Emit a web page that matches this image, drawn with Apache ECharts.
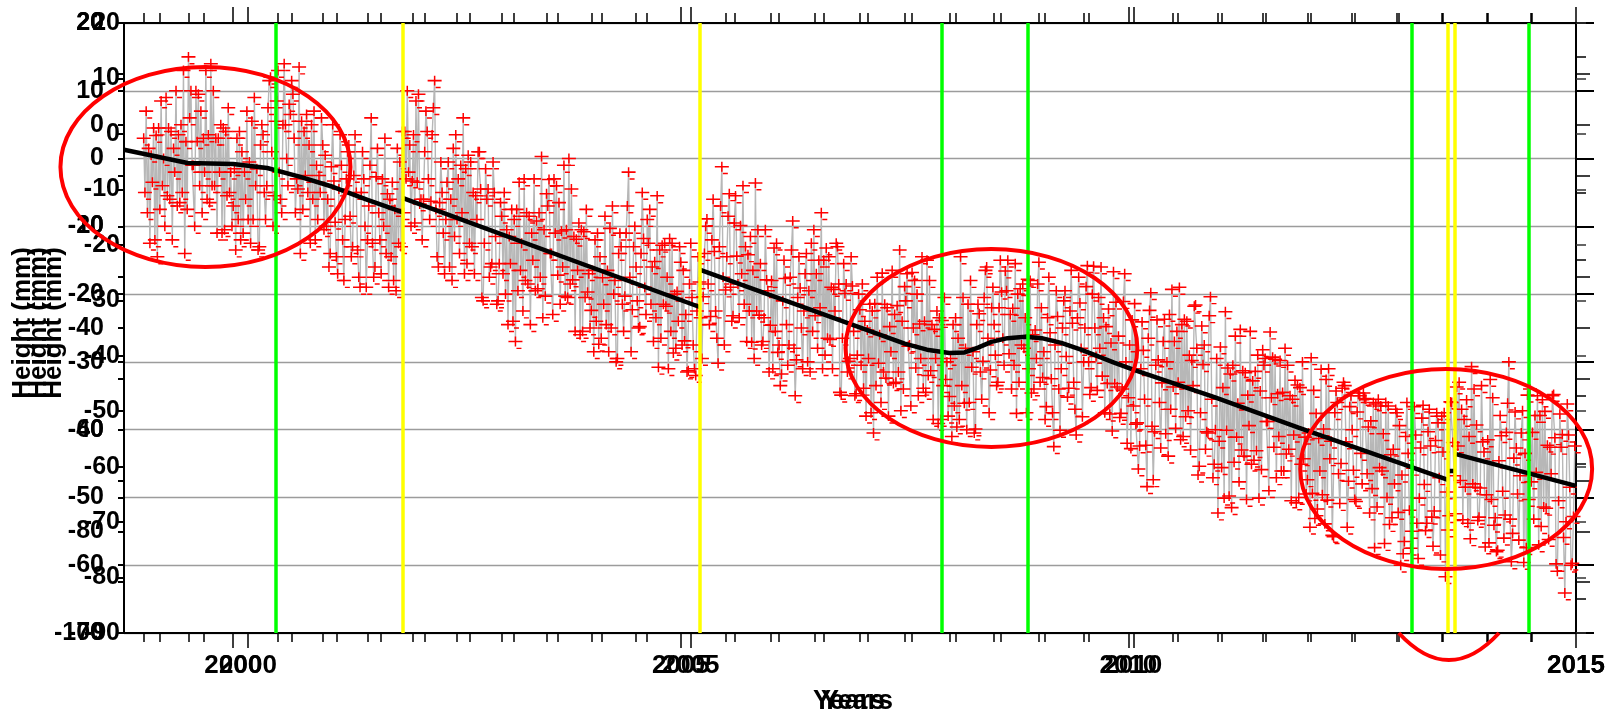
<!DOCTYPE html>
<html>
<head>
<meta charset="utf-8">
<script src="https://cdn.jsdelivr.net/npm/echarts@6/dist/echarts.min.js"></script>
<style>
  html, body { margin: 0; padding: 0; background: #ffffff; }
  #chart { width: 1619px; height: 713px; }
</style>
</head>
<body>
<div id="chart"></div>
<script>
// Station height (mm), three samples per half month.
// hYYYY: 1st / 16th of each month
const h1999 = [3,-8,0.5,-12,4.5,-4,9,-6,1.5,-7,5,-14,15,-1,10,-4,3,-6,14,-4,3,-11,4,-5];
const h2000 = [-7,3,-12,-2,-9,5.5,-4,-13,3.5,-4,12,-5.5,13,-8,5,8,9.5,-3,-14,4,-5,5,-12,-2.5];
const h2001 = [2,-10,-14,-3.3,-17,-1,-9,2,-13,-5,-19,-3,-12,6,-16,-8,-3,-14,-6,-18,1.5,-13,4,-2];
const h2002 = [-3.3,8.5,-6.7,-6,4,-6.3,11.5,-16,-5,-9,-16,1.5,-9,-1,-17,0.5,-13,-5.5,1,-21,-6,-16,-5,-21];
const h2003 = [-8.5,-20,-11.5,-24,-7.5,-16.5,-3,-18.5,-11,-19.5,-8,-23.5,-5.2,-14,-3,-17.2,-10.7,-20.3,0,-17.9,-11.9,-26,-10.8,-19.7];
const h2004 = [-22.4,-12,-27.4,-17.6,-24.5,-10.3,-20,-29.5,-13,-20.3,-2,-22.3,-16,-24.8,-11.8,-9,-21.5,-15.2,-30.8,-12.8,-21.8,-11.8,-28.7,-19.6];
const h2005 = [-15.3,-26.9,-31.3,-20.5,-32,-18.2,-20.4,-8.9,-23.3,-13.7,-30.2,-1.2,-19.4,-5.2,-23.2,-14.4,-9.9,-21.5,-14.2,-27.1,-3.6,-23.1,-27,-17.9];
const h2006 = [-24.6,-13.2,-28.6,-31.8,-17.7,-27.5,-9.2,-29.7,-19.1,-22.5,-30,-12.5,-23.2,-15,-31,-13.2,-26.7,-19.3,-13,-34.9,-19.9,-29.9,-18.8,-34.7];
const h2007 = [-22.3,-33.9,-25.3,-37.5,-21.4,-30.2,-16.9,-32.4,-24.8,-33.2,-21.7,-37.2,-18.9,-27.7,-16.8,-30.9,-24.4,-33.9,-15,-31.3,-25.2,-39.1,-23.9,-32.6];
const h2008 = [-35.1,-24.5,-39.6,-14.5,-36.1,-21.5,-30.8,-39.9,-22.9,-29.9,-16,-31.2,-24.5,-33,-19.7,-16.6,-28.8,-22.1,-37.6,-19.2,-28,-17.8,-34.6,-25.3];
const h2009 = [-15.3,-32.3,-36.6,-25.7,-42.5,-23.3,-31,-19.5,-33.9,-24.3,-40.8,-21.3,-30,-15.8,-33.8,-25,-20.5,-32.1,-24.8,-37.7,-16.7,-33.7,-37.6,-17];
const h2010 = [-35.3,-23.8,-39.2,-42.4,-28.3,-48.4,-19.8,-40.3,-29.7,-33.1,-40.6,-23,-33.7,-25.5,-41.5,-23.7,-37.2,-29.8,-21.6,-45.4,-30.4,-40.3,-20.4,-45.1];
const h2011 = [-52.3,-45.6,-22.6,-49.8,-30.5,-41.1,-25.2,-43.9,-34.9,-45.1,-31.4,-50.1,-28.2,-38.8,-25.6,-42.6,-34.7,-46.1,-28,-42.9,-35.5,-50.8,-33.8,-44.3];
const h2012 = [-47.4,-29.4,-53.1,-41.3,-49.6,-32.6,-44.3,-55.8,-36,-45,-33.5,-47.6,-40,-50.6,-35,-34.6,-46.5,-38.7,-57.4,-35.5,-46.1,-36,-54,-42.9];
const h2013 = [-37.5,-60,-56.5,-43.5,-55,-40.8,-50.1,-36.4,-53.8,-42.4,-52,-39,-38,-61.7,-52.7,-41.9,-33.7,-47.5,-38.5,-53.8,-30.7,-48.5,-52.9,-41.8];
const h2014 = [-49.6,-32.6,-54.1,-57.8,-40.9,-52.6,-30,-55.3,-42.7,-46.8,-59.6,-34.9,-47.7,-37.9,-57,-35.6,-51.6,-42.6,-34.8,-60.9,-42.6,-64.1,-40.8,-59.7];

// mYYYY: 6th / 21st of each month
const m1999 = [-5,1.5,-3.5,3.4,-7.5,0,-5.5,4,-2,3.5,-5,2.5,6,-1,2.5,7,-2,3.5,-4,3,-2,4.5,-5.5,-2];
const m2000 = [-1.5,-9,1,-6,-0.5,-9,-1.5,2,-5,7.5,1,5.5,-2,5,0,6.5,3,-4.5,5.5,-2.5,2,-6,-1,-5];
const m2001 = [-10.5,-6,-1.2,-9.4,-4.5,-12,-3,-8.5,-2.5,-13.5,-5,-10,-7,-12.5,-2.7,-12,-10,-5.2,-14.5,-7.5,-12.5,4,-3,2];
const m2002 = [3.5,-3.5,-6,1,-3,3.5,-7.5,-6.5,-11,-3.5,-6,-11.5,-3,-8,-1.5,-12.5,-5,-9,-4.5,-12.5,-4.5,-15.5,-11.5,-15.5];
const m2003 = [-17,-10.5,-15.5,-9,-19.5,-12.5,-18,-8.5,-15,-9.2,-17.5,-10.5,-7,-14,-11,-6.5,-16,-10.5,-18.5,-11.5,-16.5,-10.5,-20.5,-17];
const m2004 = [-16.5,-24,-14.5,-21.5,-16.5,-25,-18,-14,-21.5,-11,-17.5,-13,-21,-14,-19,-12.5,-16,-23.5,-13.5,-21.5,-17.5,-25.5,-20,-24];
const m2005 = [-27.5,-23,-18.5,-27.5,-22.5,-23.5,-14,-18.5,-12,-22.5,-13,-17.5,-14.5,-19,-9.5,-18.5,-17,-13,-22.5,-16.5,-22.5,-15.5,-23.5,-19.5];
const m2006 = [-18,-25.5,-27.5,-21,-24.5,-17.5,-28,-20.5,-25,-17,-19.5,-25.5,-17,-22,-15,-26.5,-19,-22.5,-18.5,-26.5,-18.5,-29.5,-25.5,-29];
const m2007 = [-30.5,-24,-29.5,-22.5,-33.5,-26,-31.5,-22,-28.5,-23,-31.5,-24,-21,-27.5,-25,-20,-29.5,-24,-32,-24.5,-29.5,-23.5,-33.5,-30];
const m2008 = [-29.5,-36.5,-26.5,-33.5,-28,-36,-28.5,-24.5,-31.5,-20.5,-26.5,-22,-29,-22,-26.5,-19.5,-23,-30.5,-20,-27.5,-23.5,-31,-26,-29.5];
const m2009 = [-33,-28.5,-23.5,-32.5,-27.5,-34,-25,-29.2,-22.5,-33,-23.5,-28,-25,-30,-20,-29.2,-28,-23.5,-33.2,-27.2,-33.2,-26.2,-34,-30];
const m2010 = [-27.5,-36.5,-39,-31,-35.5,-26.5,-39.5,-30.5,-36,-27,-30,-37,-27,-33,-24.5,-38.1,-29,-33.5,-28,-37.5,-27.5,-40.5,-35.5,-40];
const m2011 = [-41.7,-33.8,-40.1,-31.8,-44.8,-36.1,-43,-31.6,-39.4,-32.8,-43.1,-34.3,-30.5,-38.8,-35.3,-29.6,-41,-34.5,-43.6,-35,-40.8,-33.4,-45.1,-41.1];
const m2012 = [-40.5,-49.4,-37.6,-46.1,-39.9,-50.4,-41.7,-37.5,-46.5,-33.9,-41.8,-36.6,-46,-37.4,-43.5,-35.4,-39.6,-48.7,-36.2,-45.6,-40.6,-50,-43.7,-48];
const m2013 = [-52.2,-46.7,-41,-51.9,-45.7,-53.8,-42.7,-48.1,-40.3,-52.9,-41.6,-47.1,-43.3,-49.2,-35.9,-46.8,-42.4,-37,-48.5,-41,-48,-39.3,-48.6,-43.3];
const m2014 = [-41.5,-50.3,-53,-44.6,-49.1,-40.4,-53.2,-44.2,-49.5,-40.5,-43.5,-50.3,-40.4,-46.3,-37.9,-51.4,-42.3,-46.5,-41.2,-50.5,-40.7,-53.6,-48.5,-52.8];

// qYYYY: 11th / 26th of each month
const q1999 = [7,-12.5,4.5,-14.5,8.5,-10,4.5,-12,10,-6.5,13,-7.5,10,-10,9.5,-8,13,-6.5,10,-11,5,-10.5,7.5,-10];
const q2000 = [-13.5,4,-11,7,-12.5,9,-13.5,5,-9,11.5,-10,8.5,-6,14,-4,11.5,-8,13.5,-7.5,6.5,-12.5,7,-9,6];
const q2001 = [0.5,-16,5,-14.5,3.5,-18,1,-14.5,3.5,-17.5,1,-19,-1,-17.5,1.5,-17,3,-19,-3.5,-19.5,-0.5,-8,10,-10];
const q2002 = [-9.5,9.5,-12,7,-9,7.5,-14.5,-0.5,-17,-0.5,-18,3.5,-14,6,-15.5,-0.5,-17,1,-20.5,-1.5,-17.5,-0.5,-21.5,-6.5];
const q2003 = [-5,-24.5,-7.5,-27,-3.5,-22.5,-8,-24.5,-3,-19.2,0.3,-20.3,-3.1,-23,-4,-21.5,-1,-20.5,-4.5,-25.5,-9.5,-25.5,-7.5,-25];
const q2004 = [-28.5,-11,-26.5,-8.5,-28.5,-7,-30,-11,-25.5,-7,-28.5,-10,-25,-5,-23,-7.5,-27,-5.5,-26.5,-12.5,-31,-12.5,-28,-13];
const q2005 = [-16.5,-31.5,-12.5,-31,-14.5,-29.5,-10,-24.5,-6,-26.5,-7,-27.5,-8.5,-24,-5.5,-23.5,-4,-27,-11.5,-29.5,-10.5,-27.5,-10.5,-31.5];
const q2006 = [-31,-12.5,-33.5,-15,-30.5,-13.5,-35,-14.5,-31,-14,-31.5,-10.5,-28,-8,-29,-14.5,-31,-12.5,-34.5,-15.5,-31.5,-14.5,-35,-20];
const q2007 = [-18.5,-38,-21.5,-40.5,-17.5,-36,-21.5,-38,-16.5,-33,-13.5,-34,-17,-36.5,-18,-35,-14.5,-34.5,-18,-38.5,-22.5,-38.5,-20.5,-38];
const q2008 = [-41,-23.5,-38.5,-20.5,-40,-18,-40.5,-21.5,-35.5,-16.5,-37.5,-19,-33.5,-15,-30.5,-15,-34,-15.5,-33,-18.5,-37.5,-18,-34,-18.5];
const q2009 = [-22,-38.5,-17.5,-37.5,-19.5,-40.1,-21,-35.2,-16.5,-37,-17.5,-38.1,-18.9,-34.8,-15.9,-34.2,-16,-37.5,-22.2,-40.2,-21.2,-38.2,-21.1,-42];
const q2010 = [-42.8,-21.4,-45.8,-24.1,-42.3,-22.4,-47.4,-23.8,-42.7,-23.7,-43.9,-19.3,-39.8,-19,-41,-24,-43,-21.8,-46.7,-24.7,-42.9,-23.2,-47.1,-29.5];
const q2011 = [-27.8,-50.1,-30.9,-51.5,-26.2,-47.7,-31.3,-50.3,-25.5,-44.5,-29,-45.9,-29.5,-49,-29.3,-47.1,-29.8,-46.1,-30.5,-50.5,-32.7,-50,-30,-49.5];
const q2012 = [-54.4,-34.2,-51.7,-31.1,-53.9,-31,-55.6,-34.3,-50.9,-33,-54.4,-35,-50.3,-34.6,-48,-35.5,-52.3,-36,-51.4,-36.5,-56.8,-36.5,-53,-37];
const q2013 = [-39.4,-58.3,-36,-57.5,-36.6,-59,-38.3,-54.9,-37,-57.2,-37.5,-58.5,-37.5,-54.8,-36,-52.4,-33,-53.3,-35.6,-56.1,-34,-53.4,-33.5,-57.3];
const q2014 = [-56.7,-35.3,-58,-37.9,-56,-36.1,-59.5,-37.4,-56.3,-37.2,-57.4,-34,-53.2,-35,-54.3,-37.3,-56.2,-35,-59.8,-37.7,-55.9,-36.2,-60,-42.4];

const yearBlocks = [
  [1999, h1999, m1999, q1999], [2000, h2000, m2000, q2000], [2001, h2001, m2001, q2001], [2002, h2002, m2002, q2002],
  [2003, h2003, m2003, q2003], [2004, h2004, m2004, q2004], [2005, h2005, m2005, q2005], [2006, h2006, m2006, q2006],
  [2007, h2007, m2007, q2007], [2008, h2008, m2008, q2008], [2009, h2009, m2009, q2009], [2010, h2010, m2010, q2010],
  [2011, h2011, m2011, q2011], [2012, h2012, m2012, q2012], [2013, h2013, m2013, q2013], [2014, h2014, m2014, q2014]
];
const HALF_MONTHS_PER_YEAR = 24;

// Fitted trend, broken at each antenna / receiver change
const trendSeg1 = [[1998.78,1.3],[1999.49,-0.65],[2000.0,-0.8],[2000.38,-1.4],[2000.75,-2.7],[2001.12,-4.2],[2001.5,-6.1],[2001.89,-7.9]];
const trendSeg2 = [[2001.89,-5.8],[2005.21,-21.9]];
const trendSeg3 = [[2005.21,-16.4],[2007.23,-26.0],[2007.5,-27.3],[2007.75,-28.2],[2008.0,-28.7],[2008.17,-28.6],[2008.32,-27.9],[2008.47,-27.05],[2008.65,-26.5],[2008.85,-26.3],[2009.03,-26.5],[2009.25,-27.2],[2009.47,-28.2],[2009.84,-30.1],[2010.07,-31.2],[2010.96,-35.2],[2011.9,-39.7],[2013.57,-47.4]];
const trendSeg4 = [[2013.57,-46.1],[2013.65,-46.1]];
const trendSeg5 = [[2013.66,-43.6],[2015.0,-48.3]];

// Equipment change epochs
const antennaChanges = [2000.48, 2007.92, 2008.88, 2013.17, 2014.47];
const receiverChanges = [2001.89, 2005.21, 2013.57, 2013.65];

// Axis tick labels
const majorYears = [2000, 2005, 2010, 2015];

// Highlighted periods: centre (year, mm) and half-extent
const rings = [
  { year: 1999.69, mm: -1.25, halfYears: 1.62, halfMm: 14.75 },
  { year: 2008.47, mm: -27.95, halfYears: 1.63, halfMm: 14.6 },
  { year: 2013.55, mm: -45.8, halfYears: 1.63, halfMm: 14.75 }
];

const heights = [];
yearBlocks.forEach(([yr, hs, ms, qs]) => {
  hs.forEach((v, j) => {
    heights.push([yr + j / HALF_MONTHS_PER_YEAR, v]);
    heights.push([yr + (j + 1 / 3) / HALF_MONTHS_PER_YEAR, ms[j]]);
    heights.push([yr + (j + 2 / 3) / HALF_MONTHS_PER_YEAR, qs[j]]);
  });
});

const halfYearTicks = [];
for (let t = 1999; t <= 2015; t += 0.5) halfYearTicks.push(t);

const FONT = '"Liberation Sans", Arial, Helvetica, sans-serif';
const labelStyle = { fontFamily: FONT, fontWeight: 'bold', color: '#000' };

function xAxisDef(min, position, ticks, tickLen, labels, lineShown) {
  return {
    type: 'value', gridIndex: 0, min: min, max: 2015, position: position,
    axisLine: { show: lineShown, onZero: false, lineStyle: { color: '#000', width: 2 } },
    axisTick: { show: true, inside: false, customValues: ticks, length: tickLen,
                lineStyle: { color: '#000', width: 1.5 } },
    axisLabel: labels
      ? Object.assign({ show: true, customValues: majorYears, margin: 20, fontSize: 26,
                        formatter: v => String(Math.round(v)) }, labelStyle)
      : { show: false },
    splitLine: { show: false },
    minorTick: { show: false }
  };
}

function yAxisDef(min, position, opts) {
  return Object.assign({
    type: 'value', gridIndex: 0, min: min, max: 20, interval: 10, position: position,
    axisLine: { show: true, onZero: false, lineStyle: { color: '#000', width: 2 } },
    axisTick: { show: true, inside: false, length: 6, lineStyle: { color: '#000', width: 2 } },
    splitLine: { show: false },
    axisLabel: { show: false }
  }, opts);
}

const option = {
  animation: false,
  backgroundColor: '#ffffff',
  grid: { left: 124, right: 43, top: 23, bottom: 80, containLabel: false, outerBoundsMode: 'none' },
  xAxis: [
    xAxisDef(1998.78, 'bottom', majorYears, 15, true, true),
    xAxisDef(1998.60, 'bottom', majorYears, 15, true, false),
    xAxisDef(1998.78, 'bottom', halfYearTicks, 9, false, false),
    xAxisDef(1998.60, 'bottom', halfYearTicks, 9, false, false),
    xAxisDef(1998.78, 'top', majorYears, 16, false, true),
    xAxisDef(1998.60, 'top', majorYears, 16, false, false),
    xAxisDef(1998.78, 'top', halfYearTicks, 10, false, false),
    xAxisDef(1998.60, 'top', halfYearTicks, 10, false, false)
  ],
  yAxis: [
    yAxisDef(-70, 'left', {
      axisLabel: Object.assign({ show: true, margin: 20, fontSize: 25 }, labelStyle),
      splitLine: { show: true, lineStyle: { color: '#9c9c9c', width: 1.3 } }
    }),
    yAxisDef(-100, 'left', {
      axisLabel: Object.assign({ show: true, margin: 20, fontSize: 25,
        formatter: v => (Math.round(v) % 20 === 0 ? String(v) : '') }, labelStyle)
    }),
    yAxisDef(-90, 'left', {
      axisLabel: Object.assign({ show: true, margin: 4, fontSize: 25 }, labelStyle)
    }),
    yAxisDef(-70, 'right', {
      axisTick: { show: true, length: 18, lineStyle: { color: '#000', width: 2 } },
      minorTick: { show: true, splitNumber: 2, length: 10, lineStyle: { color: '#000', width: 1.5 } }
    }),
    yAxisDef(-100, 'right', {
      axisLine: { show: false, onZero: false },
      axisTick: { show: true, length: 14, lineStyle: { color: '#000', width: 1.5 } }
    }),
    yAxisDef(-90, 'right', {
      axisLine: { show: false, onZero: false },
      axisTick: { show: true, length: 10, lineStyle: { color: '#333', width: 1.5 } }
    })
  ],
  series: [
    {
      name: 'height', type: 'line', xAxisIndex: 0, yAxisIndex: 0,
      data: heights, showSymbol: false, symbol: 'none',
      lineStyle: { color: '#b7b7b7', width: 1.4 },
      silent: true, z: 2
    },
    {
      name: 'height points', type: 'scatter', xAxisIndex: 0, yAxisIndex: 0,
      data: heights,
      symbol: 'path://M0,4H14V5.5H0Z M6.25,0H7.75V9.5H6.25Z M8,10.6H13V12H8Z',
      symbolSize: [14, 12.5],
      symbolOffset: [0, 1.3],
      itemStyle: { color: '#ff0000', opacity: 1 },
      silent: true, z: 3
    },
    ...[trendSeg1, trendSeg2, trendSeg3, trendSeg4, trendSeg5].map(seg => ({
      type: 'line', xAxisIndex: 0, yAxisIndex: 0, data: seg,
      showSymbol: false, symbol: 'none',
      lineStyle: { color: '#000000', width: 4.5 },
      silent: true, z: 4
    })),
    {
      name: 'equipment changes', type: 'line', xAxisIndex: 0, yAxisIndex: 0,
      data: [], silent: true, z: 5,
      markLine: {
        silent: true, symbol: 'none', label: { show: false },
        animation: false,
        data: [
          ...antennaChanges.map(t => ({ xAxis: t, lineStyle: { color: '#00ff00', width: 3.5, type: 'solid' } })),
          ...receiverChanges.map(t => ({ xAxis: t, lineStyle: { color: '#ffff00', width: 3.5, type: 'solid' } }))
        ]
      }
    }
  ]
};

const chart = echarts.init(document.getElementById('chart'), null, { renderer: 'canvas' });
chart.setOption(option);

// Outline rings and captions
const toPx = p => chart.convertToPixel({ xAxisIndex: 0, yAxisIndex: 0 }, p);
const ringEls = rings.map(r => {
  const c = toPx([r.year, r.mm]);
  const e = toPx([r.year + r.halfYears, r.mm - r.halfMm]);
  return {
    type: 'ellipse', silent: true, z: 100,
    shape: { cx: c[0], cy: c[1], rx: e[0] - c[0], ry: e[1] - c[1] },
    style: { fill: 'none', stroke: '#ff0000', lineWidth: 4 }
  };
});
const arcStart = toPx([2013.02, -70]);
const arcEnd = toPx([2014.14, -70]);
const arcCtrl = toPx([2013.58, -78.0]);
ringEls.push({
  type: 'bezierCurve', silent: true, z: 100,
  shape: { x1: arcStart[0], y1: arcStart[1], x2: arcEnd[0], y2: arcEnd[1], cpx1: arcCtrl[0], cpy1: arcCtrl[1] },
  style: { fill: 'none', stroke: '#ff0000', lineWidth: 4 }
});

const captionFont = 'bold 26px ' + FONT;
const captions = [];
[23, 39, 54].forEach(x => captions.push({
  type: 'text', silent: true, z: 50, x: x, y: 323, rotation: Math.PI / 2,
  style: { text: 'Height (mm)', font: captionFont, fill: '#000', align: 'center', verticalAlign: 'middle' }
}));
[849, 857].forEach(x => captions.push({
  type: 'text', silent: true, z: 50, x: x, y: 702,
  style: { text: 'Years', font: 'bold 27px ' + FONT, fill: '#000', align: 'center', verticalAlign: 'middle' }
}));

chart.setOption({ graphic: [...captions, ...ringEls] });
</script>
</body>
</html>
